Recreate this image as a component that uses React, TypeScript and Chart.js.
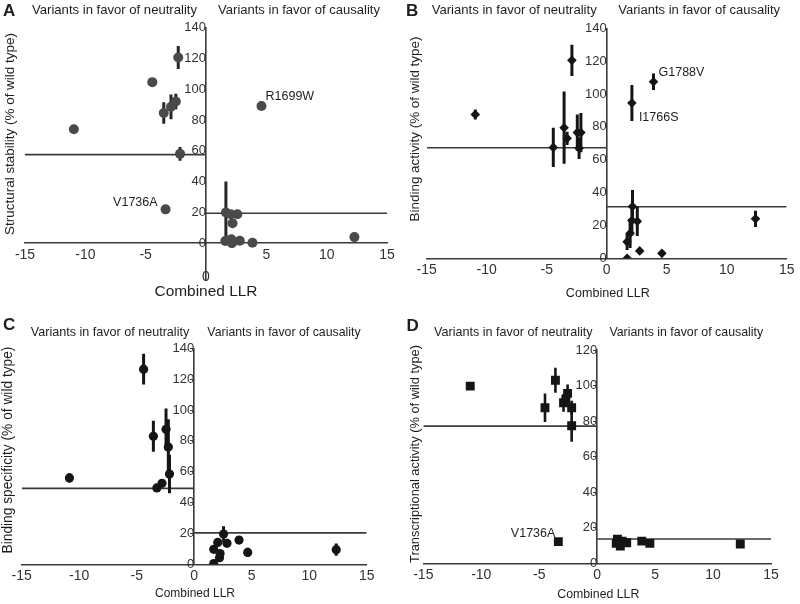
import React, { useEffect, useRef } from 'react';
import { Chart, registerables } from 'chart.js';
Chart.register(...registerables);

const FONT = '"Liberation Sans", Arial, sans-serif';

// ---------- shared text / ticks ----------
const HEAD_LEFT = 'Variants in favor of neutrality';
const HEAD_RIGHT = 'Variants in favor of causality';
const X_TITLE = 'Combined LLR';
const X_TICKS = [-15, -10, -5, 0, 5, 10, 15];
const Y_TICKS_140 = [0, 20, 40, 60, 80, 100, 120, 140];
const Y_TICKS_120 = [0, 20, 40, 60, 80, 100, 120];

// ---------- Panel A : structural stability ----------
const llrA = [-10.95, -4.45, -2.3, -3.5, -2.9, -2.5, -2.15, -3.35, 4.6, 1.65, 2.05, 2.6, 2.2, 1.6, 2.1, 2.15, 2.8, 3.85, 12.3];
const stabA = [74, 104.5, 120.5, 84.5, 88.5, 92, 58, 22, 89, 20, 18.8, 18.8, 13, 1.5, 2.6, 0, 1.7, 0.4, 4];
const errA = [0, 0, 7.5, 7, 8, 5, 4.5, 0, 0, 20, 0, 0, 0, 0, 0, 0, 0, 0, 0];
const namesA = ['', '', '', '', '', '', '', 'V1736A', 'R1699W', '', '', '', '', '', '', '', '', '', ''];
const thrA = [57.5, 19.5];

// ---------- Panel B : binding activity ----------
const llrB = [-10.95, -2.9, -4.45, -3.55, -3.3, -2.45, -2.15, -2.3, 2.1, 3.9, 2.15, 2.55, 2.1, 1.95, 1.7, 1.7, 2.75, 4.6, 12.4];
const bindB = [87.5, 120.5, 67.5, 79.5, 73, 76.5, 76.5, 67, 94.5, 107.5, 31.5, 22.5, 23, 15.2, 10, 0, 4.5, 3, 24];
const errB = [3, 9.5, 12, 22, 4, 11, 12, 6.5, 11, 5, 10, 9, 9, 9, 5, 0, 0, 0, 5];
const namesB = ['', '', '', '', '', '', '', '', 'I1766S', 'G1788V', '', '', '', '', '', '', '', '', ''];
const thrB = [67.3, 31.4];

// ---------- Panel C : binding specificity ----------
const llrC = [-10.85, -4.4, -3.55, -2.45, -2.25, -2.15, -3.25, -2.8, 2.55, 2.05, 2.85, 3.9, 1.7, 2.25, 2.2, 1.7, 4.65, 12.35];
const specC = [56, 126.5, 83, 87.5, 76, 58.5, 49.5, 52.5, 19.6, 14.2, 13.6, 15.7, 9.7, 7, 4.3, 0.5, 7.7, 9.5];
const errC = [3, 10, 10, 13.5, 18, 12.5, 0, 0, 5, 0, 0, 0, 0, 0, 0, 0, 3, 4];
const namesC = specC.map(() => '');
const thrC = [49.2, 20.4];

// ---------- Panel D : transcriptional activity ----------
const llrD = [-10.95, -4.5, -3.6, -2.9, -2.55, -2.7, -2.2, -2.2, -3.35, 1.65, 2.15, 2.0, 2.55, 1.75, 3.85, 4.55, 12.35];
const transD = [99.7, 87.5, 103, 90.3, 95.6, 92.2, 87.5, 77.4, 12.2, 11.2, 12.5, 9.7, 11.6, 13.5, 12.5, 11.2, 10.9];
const errD = [0, 8, 7, 5, 5, 0, 4, 9, 0, 0, 0, 0, 0, 0, 0, 0, 0];
const namesD = ['', '', '', '', '', '', '', '', 'V1736A', '', '', '', '', '', '', '', ''];
const thrD = [77.2, 13.7];

type Align = 'left' | 'right' | 'center';
interface PanelCfg {
  letter: string;
  left: number;
  top: number;
  llr: number[];
  val: number[];
  err: number[];
  names: string[];
  thr: number[];
  yMin: number;
  yMax: number;
  yTicks: number[];
  yTitle: string;
  marker: string;
  radius: number;
  color: string;
  errColor: string;
  errWidth: number;
  pad: { left: number; right: number; top: number; bottom: number };
  yTickLen: number;
  yTickPad: number;
  xTickFont: number;
  yTickFont: number;
  letterAt: [number, number];
  head1: [number, number, number];
  head2: [number, number, number];
  yTitleAt: [number, number, number];
  xTitleAt: [number, number, number];
  namePos: Record<string, [number, number, Align]>;
  zeroLabelAt?: [number, number];
}

const panels: PanelCfg[] = [
  {
    letter: 'A', left: 0, top: 0,
    llr: llrA, val: stabA, err: errA, names: namesA, thr: thrA,
    yMin: -24, yMax: 140, yTicks: Y_TICKS_140,
    yTitle: 'Structural stability (% of wild type)',
    marker: 'circle', radius: 5, color: '#4a4a4a', errColor: '#262626', errWidth: 3,
    pad: { left: 25, right: 13, top: 27.4, bottom: 21.7 },
    yTickLen: 0, yTickPad: 4, xTickFont: 14, yTickFont: 13,
    letterAt: [3, 11], head1: [114.5, 10, 165], head2: [299, 10, 162],
    yTitleAt: [10, 134, 202], xTitleAt: [206, 292, 103],
    namePos: { V1736A: [-8, -7, 'right'], R1699W: [4, -9, 'left'] },
    zeroLabelAt: [206, 277],
  },
  {
    letter: 'B', left: 400, top: 0,
    llr: llrB, val: bindB, err: errB, names: namesB, thr: thrB,
    yMin: 0, yMax: 140, yTicks: Y_TICKS_140,
    yTitle: 'Binding activity (% of wild type)',
    marker: 'rectRot', radius: 4.8, color: '#151515', errColor: '#151515', errWidth: 3,
    pad: { left: 26.7, right: 13.3, top: 28.3, bottom: 43.7 },
    yTickLen: 0, yTickPad: 1, xTickFont: 14, yTickFont: 13,
    letterAt: [6, 11], head1: [114.2, 10, 165], head2: [299.2, 10, 162],
    yTitleAt: [15, 129, 185], xTitleAt: [207.8, 293.3, 84],
    namePos: { I1766S: [7, 14, 'left'], G1788V: [5, -9, 'left'] },
  },
  {
    letter: 'C', left: 0, top: 302,
    llr: llrC, val: specC, err: errC, names: namesC, thr: thrC,
    yMin: 0, yMax: 140, yTicks: Y_TICKS_140,
    yTitle: 'Binding specificity (% of wild type)',
    marker: 'circle', radius: 4.6, color: '#151515', errColor: '#151515', errWidth: 3,
    pad: { left: 21.7, right: 33.3, top: 46.3, bottom: 39.7 },
    yTickLen: 3, yTickPad: 3, xTickFont: 14, yTickFont: 13,
    letterAt: [3, 23.7], head1: [110, 30.7, 158.6], head2: [284, 30.7, 153.4],
    yTitleAt: [8.3, 148, 207], xTitleAt: [195, 291.3, 80],
    namePos: {},
  },
  {
    letter: 'D', left: 400, top: 302,
    llr: llrD, val: transD, err: errD, names: namesD, thr: thrD,
    yMin: 0, yMax: 120, yTicks: Y_TICKS_120,
    yTitle: 'Transcriptional activity (% of wild type)',
    marker: 'rect', radius: 6.3, color: '#151515', errColor: '#151515', errWidth: 2.6,
    pad: { left: 23.3, right: 29, top: 48, bottom: 40.7 },
    yTickLen: 3, yTickPad: 3, xTickFont: 14, yTickFont: 13,
    letterAt: [6.5, 24.7], head1: [113.3, 30.7, 158.7], head2: [286.3, 30.7, 154],
    yTitleAt: [15, 152, 218], xTitleAt: [198.3, 293, 82],
    namePos: { V1736A: [-3, -8, 'right'] },
  },
];

const TEXT = '#1e1e1e';
const AXIS = '#3a3a3a';

function fitText(ctx: CanvasRenderingContext2D, text: string, x: number, y: number, width: number, weight = 'normal') {
  ctx.font = `${weight} 20px ${FONT}`;
  const m = ctx.measureText(text).width;
  const size = (20 * width) / m;
  ctx.font = `${weight} ${size.toFixed(2)}px ${FONT}`;
  ctx.textAlign = 'center';
  ctx.textBaseline = 'middle';
  ctx.fillText(text, x, y);
}

function textPlugin(p: PanelCfg) {
  return {
    id: 'panelText' + p.letter,
    afterDraw(chart: any) {
      const ctx: CanvasRenderingContext2D = chart.ctx;
      ctx.save();
      ctx.fillStyle = TEXT;
      ctx.font = `bold 17px ${FONT}`;
      ctx.textAlign = 'left';
      ctx.textBaseline = 'middle';
      ctx.fillText(p.letter, p.letterAt[0], p.letterAt[1]);
      fitText(ctx, HEAD_LEFT, p.head1[0], p.head1[1], p.head1[2]);
      fitText(ctx, HEAD_RIGHT, p.head2[0], p.head2[1], p.head2[2]);
      fitText(ctx, X_TITLE, p.xTitleAt[0], p.xTitleAt[1], p.xTitleAt[2]);
      ctx.save();
      ctx.translate(p.yTitleAt[0], p.yTitleAt[1]);
      ctx.rotate(-Math.PI / 2);
      fitText(ctx, p.yTitle, 0, 0, p.yTitleAt[2]);
      ctx.restore();
      if (p.zeroLabelAt) {
        ctx.font = `${p.xTickFont}px ${FONT}`;
        ctx.fillStyle = '#333';
        ctx.textAlign = 'center';
        ctx.textBaseline = 'middle';
        ctx.fillText('0', p.zeroLabelAt[0], p.zeroLabelAt[1]);
      }
      const xs = chart.scales.x;
      const ys = chart.scales.y;
      ctx.fillStyle = TEXT;
      ctx.font = `12.5px ${FONT}`;
      ctx.textBaseline = 'middle';
      p.names.forEach((n, i) => {
        if (!n) return;
        const pos = p.namePos[n];
        if (!pos) return;
        ctx.textAlign = pos[2];
        ctx.fillText(n, xs.getPixelForValue(p.llr[i]) + pos[0], ys.getPixelForValue(p.val[i]) + pos[1]);
      });
      ctx.restore();
    },
  };
}

function PanelChart({ p }: { p: PanelCfg }) {
  const ref = useRef<HTMLCanvasElement>(null);
  useEffect(() => {
    if (!ref.current) return;
    const pts = p.llr.map((x, i) => ({ x, y: p.val[i] }));
    const errSets: any[] = [];
    p.llr.forEach((x, i) => {
      if (p.err[i] > 0) {
        errSets.push({
          data: [
            { x, y: p.val[i] - p.err[i] },
            { x, y: p.val[i] + p.err[i] },
          ],
          showLine: true,
          borderColor: p.errColor,
          borderWidth: p.errWidth,
          borderCapStyle: 'butt',
          pointRadius: 0,
          fill: false,
          order: 1,
        });
      }
    });
    const thrSets = [
      { data: [{ x: -15, y: p.thr[0] }, { x: 0, y: p.thr[0] }] },
      { data: [{ x: 0, y: p.thr[1] }, { x: 15, y: p.thr[1] }] },
    ].map((d) => ({
      ...d,
      showLine: true,
      borderColor: AXIS,
      borderWidth: 1.6,
      pointRadius: 0,
      fill: false,
      order: 2,
    }));
    const chart = new Chart(ref.current, {
      type: 'scatter',
      data: {
        datasets: [
          {
            data: pts,
            pointStyle: p.marker as any,
            pointRadius: p.radius,
            pointBackgroundColor: p.color,
            pointBorderColor: p.color,
            pointBorderWidth: 0,
            showLine: false,
            order: 0,
          } as any,
          ...errSets,
          ...thrSets,
        ],
      },
      options: {
        animation: false,
        responsive: false,
        maintainAspectRatio: false,
        layout: { padding: p.pad },
        plugins: {
          legend: { display: false },
          tooltip: { enabled: false },
          title: { display: false },
        },
        scales: {
          x: {
            type: 'linear',
            min: -15,
            max: 15,
            position: { y: 0 } as any,
            afterBuildTicks: (s: any) => {
              s.ticks = X_TICKS.map((v) => ({ value: v }));
            },
            ticks: {
              autoSkip: false,
              maxRotation: 0,
              padding: 3,
              color: '#333',
              font: { family: FONT, size: p.xTickFont },
              callback: (v: any) => (p.zeroLabelAt && Number(v) === 0 ? '' : String(v)),
            },
            grid: { display: true, drawOnChartArea: false, drawTicks: true, tickLength: 0 },
            border: { display: true, color: AXIS, width: 1.6 },
          },
          y: {
            type: 'linear',
            min: p.yMin,
            max: p.yMax,
            position: { x: 0 } as any,
            afterBuildTicks: (s: any) => {
              s.ticks = p.yTicks.map((v) => ({ value: v }));
            },
            ticks: {
              autoSkip: false,
              padding: p.yTickPad,
              color: '#333',
              font: { family: FONT, size: p.yTickFont },
              callback: (v: any) => String(v),
            },
            grid: {
              display: true,
              drawOnChartArea: false,
              drawTicks: p.yTickLen > 0,
              tickLength: p.yTickLen,
              color: AXIS,
              tickWidth: 1,
            },
            border: { display: true, color: AXIS, width: 1.6 },
          },
        },
      } as any,
      plugins: [textPlugin(p)],
    });
    return () => chart.destroy();
  }, [p]);
  return (
    <canvas
      ref={ref}
      width={400}
      height={302}
      style={{ position: 'absolute', left: p.left, top: p.top, width: 400, height: 302 }}
    />
  );
}

export default function App() {
  return (
    <div style={{ position: 'absolute', left: 0, top: 0, width: 800, height: 604, background: '#fff', overflow: 'hidden' }}>
      {panels.map((p) => (
        <PanelChart key={p.letter} p={p} />
      ))}
    </div>
  );
}
